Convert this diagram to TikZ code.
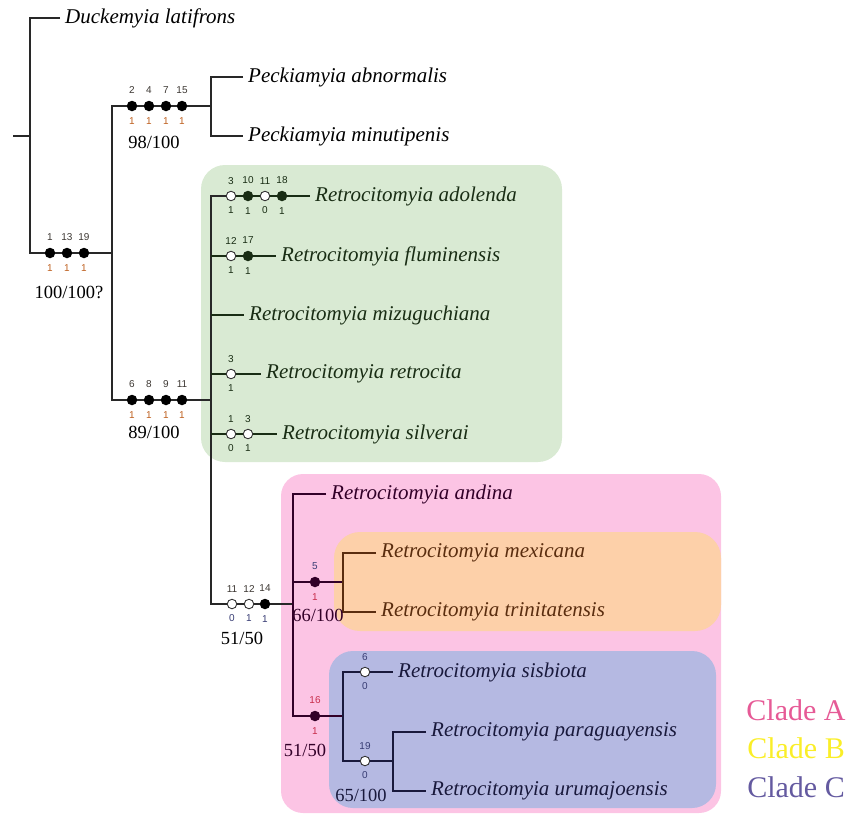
\documentclass[tikz,border=0pt]{standalone}
\usepackage{fontspec}
\setmainfont{Liberation Serif}
\newfontfamily\numsans{Liberation Sans}
\usetikzlibrary{shapes,arrows,calc}
\definecolor{boxgreen}{RGB}{217,234,211}
\definecolor{boxpink}{RGB}{252,196,228}
\definecolor{boxorange}{RGB}{253,208,169}
\definecolor{boxblue}{RGB}{181,185,226}
\definecolor{inkgreen}{RGB}{25,45,20}
\definecolor{inkpink}{RGB}{50,0,40}
\definecolor{inkorange}{RGB}{90,45,15}
\definecolor{inkblue}{RGB}{25,25,60}
\definecolor{numtop}{RGB}{60,55,50}
\definecolor{numbot}{RGB}{190,95,30}
\definecolor{numred}{RGB}{200,45,75}
\definecolor{numnavy}{RGB}{55,60,115}
\definecolor{cladeA}{RGB}{230,90,150}
\definecolor{cladeB}{RGB}{250,238,40}
\definecolor{cladeC}{RGB}{100,90,160}
\tikzstyle{branch}=[draw={rgb,255:red,40;green,40;blue,40}, line width=1.2pt]
\tikzstyle{taxon}=[anchor=west,
                   inner xsep=5pt,
                   inner ysep=0pt,
                   font=\fontsize{21}{21}\selectfont\itshape]
\tikzstyle{support}=[inner sep=0pt,
                     font=\fontsize{18.5}{18.5}\selectfont]
\tikzstyle{syn}=[circle,
                 fill=black,
                 inner sep=0pt,
                 minimum size=10.5pt]
\tikzstyle{hom}=[circle,
                 draw=black!80,
                 fill=white,
                 line width=0.9pt,
                 inner sep=0pt,
                 minimum size=9.5pt]
\tikzstyle{chtop}=[inner sep=0pt, yshift=6.5pt, text=numtop, font=\numsans\fontsize{10}{10}\selectfont]
\tikzstyle{chbot}=[inner sep=0pt, yshift=-5.5pt, text=numbot, font=\numsans\fontsize{10}{10}\selectfont]
\tikzstyle{clade}=[inner sep=0pt, font=\fontsize{30}{30}\selectfont]

\begin{document}
\begin{tikzpicture}[x=1pt,y=-1pt]
    \useasboundingbox (0,0) rectangle (853,815);
    % clade boxes
    \fill[boxgreen, rounded corners=24pt] (201,165) rectangle (562,462);
    \fill[boxpink, rounded corners=22pt] (281,474) rectangle (721,813);
    \fill[boxorange, rounded corners=26pt] (334,532) rectangle (721,631);
    \fill[boxblue, rounded corners=24pt] (329,651) rectangle (716,808);

    % internal nodes
    \coordinate (stub) at (13,136);
    \coordinate (root) at (30,136);
    \coordinate (nA) at (112,253);
    \coordinate (nP) at (211,106);
    \coordinate (nR) at (211,400);
    \coordinate (nS) at (293,604);
    \coordinate (nM) at (343,582);
    \coordinate (nB) at (343,716);
    \coordinate (nU) at (393,761);

    % terminals
    \node[taxon] (duck) at (60,18) {Duckemyia latifrons};
    \node[taxon] (abn) at (243,77) {Peckiamyia abnormalis};
    \node[taxon] (minu) at (243,136) {Peckiamyia minutipenis};
    \node[taxon, text=inkgreen] (ado) at (310,196) {Retrocitomyia adolenda};
    \node[taxon, text=inkgreen] (flu) at (276,256) {Retrocitomyia fluminensis};
    \node[taxon, text=inkgreen] (miz) at (244,315) {Retrocitomyia mizuguchiana};
    \node[taxon, text=inkgreen] (ret) at (261,374) {Retrocitomyia retrocita};
    \node[taxon, text=inkgreen] (sil) at (277,434) {Retrocitomyia silverai};
    \node[taxon, text=inkpink] (and) at (326,494) {Retrocitomyia andina};
    \node[taxon, text=inkorange] (mex) at (376,553) {Retrocitomyia mexicana};
    \node[taxon, text=inkorange] (tri) at (376,612) {Retrocitomyia trinitatensis};
    \node[taxon, text=inkblue] (sis) at (393,672) {Retrocitomyia sisbiota};
    \node[taxon, text=inkblue] (par) at (426,732) {Retrocitomyia paraguayensis};
    \node[taxon, text=inkblue] (uru) at (426,791) {Retrocitomyia urumajoensis};

    % character changes
    \node[syn, label={[chtop]90:1}, label={[chbot]-90:1}] (a1) at (50,253) {};
    \node[syn, label={[chtop]90:13}, label={[chbot]-90:1}] (a13) at (67,253) {};
    \node[syn, label={[chtop]90:19}, label={[chbot]-90:1}] (a19) at (84,253) {};
    \node[syn, label={[chtop]90:2}, label={[chbot]-90:1}] (p2) at (132,106) {};
    \node[syn, label={[chtop]90:4}, label={[chbot]-90:1}] (p4) at (149,106) {};
    \node[syn, label={[chtop]90:7}, label={[chbot]-90:1}] (p7) at (166,106) {};
    \node[syn, label={[chtop]90:15}, label={[chbot]-90:1}] (p15) at (182,106) {};
    \node[syn, label={[chtop]90:6}, label={[chbot]-90:1}] (r6) at (132,400) {};
    \node[syn, label={[chtop]90:8}, label={[chbot]-90:1}] (r8) at (149,400) {};
    \node[syn, label={[chtop]90:9}, label={[chbot]-90:1}] (r9) at (166,400) {};
    \node[syn, label={[chtop]90:11}, label={[chbot]-90:1}] (r11) at (182,400) {};
    \node[hom, label={[chtop,text=inkgreen]90:3}, label={[chbot,text=inkgreen]-90:1}] (ad3) at (231,196) {};
    \node[syn, fill=inkgreen, label={[chtop,text=inkgreen]90:10}, label={[chbot,text=inkgreen]-90:1}] (ad10) at (248,196) {};
    \node[hom, label={[chtop,text=inkgreen]90:11}, label={[chbot,text=inkgreen]-90:0}] (ad11) at (265,196) {};
    \node[syn, fill=inkgreen, label={[chtop,text=inkgreen]90:18}, label={[chbot,text=inkgreen]-90:1}] (ad18) at (282,196) {};
    \node[hom, label={[chtop,text=inkgreen]90:12}, label={[chbot,text=inkgreen]-90:1}] (fl12) at (231,256) {};
    \node[syn, fill=inkgreen, label={[chtop,text=inkgreen]90:17}, label={[chbot,text=inkgreen]-90:1}] (fl17) at (248,256) {};
    \node[hom, label={[chtop,text=inkgreen]90:3}, label={[chbot,text=inkgreen]-90:1}] (re3) at (231,374) {};
    \node[hom, label={[chtop,text=inkgreen]90:1}, label={[chbot,text=inkgreen]-90:0}] (si1) at (231,434) {};
    \node[hom, label={[chtop,text=inkgreen]90:3}, label={[chbot,text=inkgreen]-90:1}] (si3) at (248,434) {};
    \node[hom, label={[chtop]90:11}, label={[chbot,text=numnavy]-90:0}] (s11) at (232,604) {};
    \node[hom, label={[chtop]90:12}, label={[chbot,text=numnavy]-90:1}] (s12) at (249,604) {};
    \node[syn, label={[chtop]90:14}, label={[chbot,text=numnavy]-90:1}] (s14) at (265,604) {};
    \node[syn, fill=inkpink, label={[chtop,text=numnavy]90:5}, label={[chbot,text=numred]-90:1}] (m5) at (315,582) {};
    \node[syn, fill=inkpink, label={[chtop,text=numred]90:16}, label={[chbot,text=numred]-90:1}] (b16) at (315,716) {};
    \node[hom, label={[chtop,text=numnavy]90:6}, label={[chbot,text=numnavy]-90:0}] (sb6) at (365,672) {};
    \node[hom, label={[chtop,text=numnavy]90:19}, label={[chbot,text=numnavy]-90:0}] (u19) at (365,761) {};

    % branches
    \path[branch] (stub) -- (root)
       (duck) -| (root) |- (a1)
       (a1) -- (a13) -- (a19) -- (nA)
       (p2) -| (nA) |- (r6)
       (p2) -- (p4) -- (p7) -- (p15) -- (nP)
       (abn) -| (nP) |- (minu)
       (r6) -- (r8) -- (r9) -- (r11) -- (nR)
       (ad3) -| (nR) |- (s11)
       (s11) -- (s12) -- (s14) -- (nS);
    \path[branch, draw=inkgreen] (ad3) -- (ad10) -- (ad11) -- (ad18) -- (ado)
       (nR |- fl12) -- (fl12) -- (fl17) -- (flu)
       (nR |- miz) -- (miz)
       (nR |- re3) -- (re3) -- (ret)
       (nR |- si1) -- (si1) -- (si3) -- (sil);
    \path[branch, draw=inkpink] (and) -| (nS) |- (b16)
       (nS |- m5) -- (m5) -- (nM)
       (b16) -- (nB);
    \path[branch, draw=inkorange] (mex) -| (nM) |- (tri);
    \path[branch, draw=inkblue] (sb6) -| (nB) |- (u19)
       (sb6) -- (sis)
       (u19) -- (nU)
       (par) -| (nU) |- (uru);

    % support values
    \node[support] (bsA) at (69,292) {100/100?};
    \node[support] (bsP) at (154,142) {98/100};
    \node[support] (bsR) at (154,432) {89/100};
    \node[support] (bsS) at (242,638) {51/50};
    \node[support, text=inkpink] (bsM) at (318,615) {66/100};
    \node[support, text=inkpink] (bsB) at (305,750) {51/50};
    \node[support, text=inkblue] (bsU) at (361,795) {65/100};

    % legend
    \node[clade, text=cladeA] (cladeA) at (796,710) {Clade A};
    \node[clade, text=cladeB] (cladeB) at (796,748) {Clade B};
    \node[clade, text=cladeC] (cladeC) at (796,787) {Clade C};
\end{tikzpicture}
\end{document}
